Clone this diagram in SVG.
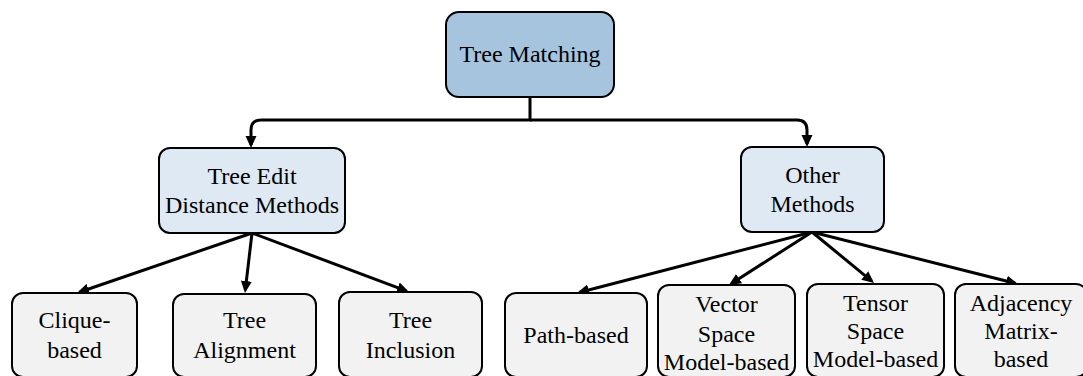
<svg xmlns="http://www.w3.org/2000/svg" width="1083" height="376" viewBox="0 0 1083 376">
<defs>
<style>
.box{stroke:#000;stroke-width:2}
.root{fill:#a7c4de}
.mid{fill:#dfe9f3}
.leaf{fill:#f2f2f2}
.lbl{font-family:'Liberation Serif','DejaVu Serif',serif;font-size:24px;fill:#000;text-anchor:middle}
.conn{fill:none;stroke:#000;stroke-width:3}
</style>
<marker id="ah" viewBox="0 0 12 12" markerWidth="12" markerHeight="12" refX="9" refY="6" orient="auto" markerUnits="userSpaceOnUse">
<path d="M0,0.5 L12,6 L0,11.5 z" fill="#000"/>
</marker>
</defs>
<rect width="1083" height="376" fill="#fff"/>
<g id="connectors">
<path class="conn" d="M530,97 V120 H261 Q251,120 251,130 V145" marker-end="url(#ah)"/>
<path class="conn" d="M530,120 H797 Q807,120 807,130 V144" marker-end="url(#ah)"/>
<path class="conn" d="M252,233 L79.8,292" marker-end="url(#ah)"/>
<path class="conn" d="M252,233 L245.3,290" marker-end="url(#ah)"/>
<path class="conn" d="M252,233 L406.2,290.9" marker-end="url(#ah)"/>
<path class="conn" d="M812,232 L579.9,292.2" marker-end="url(#ah)"/>
<path class="conn" d="M812,232 L731.5,283.4" marker-end="url(#ah)"/>
<path class="conn" d="M812,232 L871.7,281.1" marker-end="url(#ah)"/>
<path class="conn" d="M812,232 L1015.1,283.3" marker-end="url(#ah)"/>
</g>
<g id="root">
<rect class="box root" x="446" y="12" width="168" height="85" rx="13"/>
<text class="lbl" x="530" y="62">Tree Matching</text>
</g>
<g id="ted">
<rect class="box mid" x="159" y="148" width="186" height="85" rx="11"/>
<text class="lbl" x="252" y="184">Tree Edit</text>
<text class="lbl" x="252" y="213">Distance Methods</text>
</g>
<g id="other">
<rect class="box mid" x="741" y="147" width="143" height="85" rx="11"/>
<text class="lbl" x="812.5" y="183">Other</text>
<text class="lbl" x="812.5" y="212">Methods</text>
</g>
<g id="clique">
<rect class="box leaf" x="12" y="293" width="125" height="84" rx="11"/>
<text class="lbl" x="74.5" y="328">Clique-</text>
<text class="lbl" x="74.5" y="358">based</text>
</g>
<g id="alignment">
<rect class="box leaf" x="173" y="294" width="143" height="83" rx="11"/>
<text class="lbl" x="244.5" y="328">Tree</text>
<text class="lbl" x="244.5" y="358">Alignment</text>
</g>
<g id="inclusion">
<rect class="box leaf" x="339" y="292" width="143" height="85" rx="11"/>
<text class="lbl" x="410.5" y="328">Tree</text>
<text class="lbl" x="410.5" y="358">Inclusion</text>
</g>
<g id="path">
<rect class="box leaf" x="505" y="293" width="142" height="84" rx="11"/>
<text class="lbl" x="576" y="343">Path-based</text>
</g>
<g id="vector">
<rect class="box leaf" x="658" y="285" width="137" height="92" rx="11"/>
<text class="lbl" x="726.5" y="312">Vector</text>
<text class="lbl" x="726.5" y="342">Space</text>
<text class="lbl" x="726.5" y="370">Model-based</text>
</g>
<g id="tensor">
<rect class="box leaf" x="807" y="284" width="137" height="93" rx="11"/>
<text class="lbl" x="875.5" y="311">Tensor</text>
<text class="lbl" x="875.5" y="339">Space</text>
<text class="lbl" x="875.5" y="367">Model-based</text>
</g>
<g id="adjacency">
<rect class="box leaf" x="955" y="284" width="132" height="93" rx="11"/>
<text class="lbl" x="1021" y="311">Adjacency</text>
<text class="lbl" x="1021" y="339">Matrix-</text>
<text class="lbl" x="1021" y="367">based</text>
</g>
</svg>
